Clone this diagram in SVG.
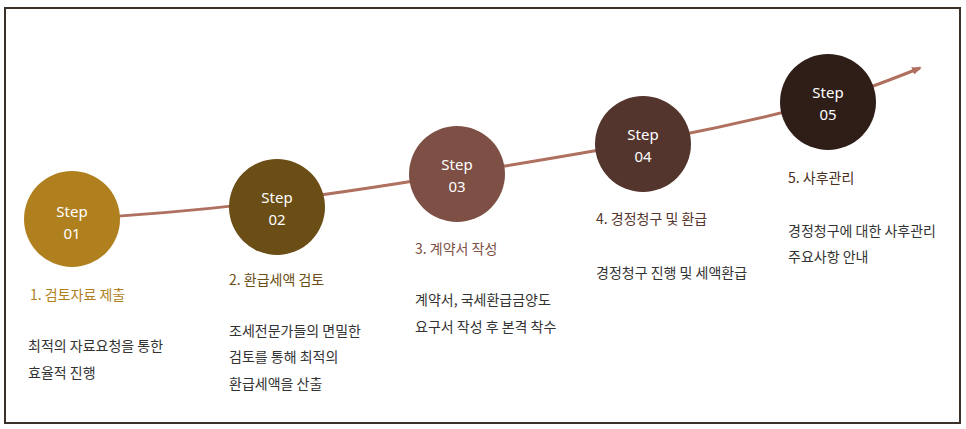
<svg xmlns="http://www.w3.org/2000/svg" width="966" height="429" viewBox="0 0 966 429">
<style>
.n{fill:#fff;font:15px "Noto Sans","Noto Sans CJK KR",sans-serif;text-anchor:middle}
.t{font:14px "Noto Sans CJK KR",sans-serif}
.d{font:14px "Noto Sans CJK KR",sans-serif;fill:#333}
</style>
<defs><marker id="a" markerWidth="10" markerHeight="8" refX="8" refY="4" orient="auto" markerUnits="userSpaceOnUse"><path d="M0,0L10,4L0,8z" fill="#B0705F"/></marker></defs>
<rect x="5" y="8" width="955" height="415" fill="#fff" stroke="#3a302a" stroke-width="2"/>
<g id="connectors"><path d="M72,219 C200,212 300,200 457,174 C600,150 700,135 828,101 C860,92 890,80 920,68" fill="none" stroke="#B0705F" stroke-width="3" marker-end="url(#a)"/></g>
<g id="s1"><circle cx="72" cy="219" r="48" fill="#B07F1E"/><text class="n" x="72" y="217">Step</text><text class="n" x="72" y="239">01</text>
<text class="t" x="30" y="300" fill="#B07F1E">1. 검토자료 제출</text><text class="d" x="28" y="351">최적의 자료요청을 통한</text><text class="d" x="28" y="378">효율적 진행</text></g>
<g id="s2"><circle cx="277" cy="207" r="48" fill="#6B4E16"/><text class="n" x="277" y="203">Step</text><text class="n" x="277" y="225">02</text>
<text class="t" x="229" y="285" fill="#6B4E16">2. 환급세액 검토</text><text class="d" x="229" y="336">조세전문가들의 면밀한</text><text class="d" x="229" y="362">검토를 통해 최적의</text><text class="d" x="229" y="389">환급세액을 산출</text></g>
<g id="s3"><circle cx="457" cy="174" r="48" fill="#7E5045"/><text class="n" x="457" y="170">Step</text><text class="n" x="457" y="192">03</text>
<text class="t" x="415" y="254" fill="#7E5045">3. 계약서 작성</text><text class="d" x="415" y="305">계약서, 국세환급금양도</text><text class="d" x="415" y="332">요구서 작성 후 본격 착수</text></g>
<g id="s4"><circle cx="643" cy="144" r="48" fill="#54352D"/><text class="n" x="643" y="140">Step</text><text class="n" x="643" y="162">04</text>
<text class="t" x="596" y="224" fill="#54352D">4. 경정청구 및 환급</text><text class="d" x="596" y="278">경정청구 진행 및 세액환급</text></g>
<g id="s5"><circle cx="828" cy="102" r="48" fill="#2F1D17"/><text class="n" x="828" y="98">Step</text><text class="n" x="828" y="120">05</text>
<text class="t" x="788" y="183" fill="#4A2E20">5. 사후관리</text><text class="d" x="788" y="236">경정청구에 대한 사후관리</text><text class="d" x="788" y="262">주요사항 안내</text></g>
</svg>
